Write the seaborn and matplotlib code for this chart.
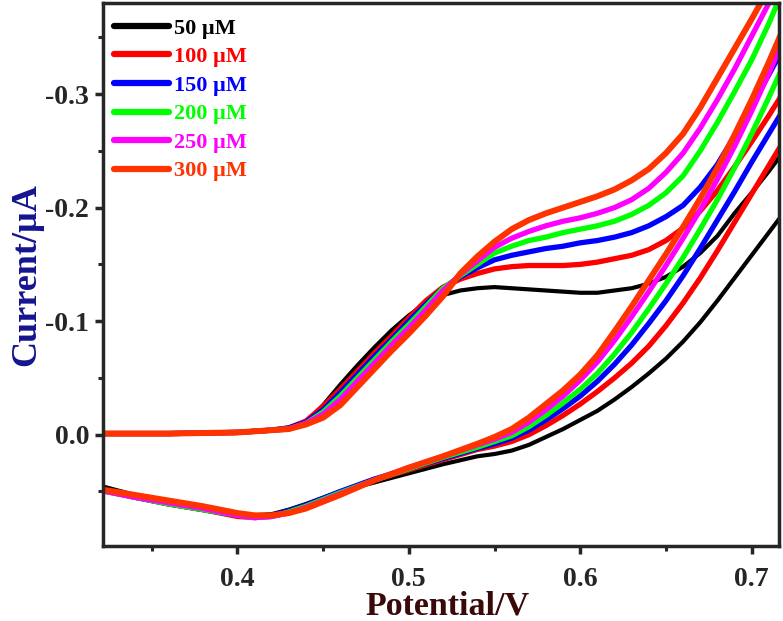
import matplotlib
matplotlib.use("Agg")
import matplotlib.pyplot as plt
import seaborn as sns
import pandas as pd
from matplotlib.ticker import MultipleLocator, FormatStrFormatter

# potential grid of the upper and lower branches, V
x_up = [0.32, 0.36, 0.40, 0.42, 0.43, 0.44, 0.45, 0.46, 0.47, 0.48, 0.49, 0.50, 0.51, 0.52,
        0.53, 0.54, 0.55, 0.56, 0.57, 0.58,
        0.59, 0.60, 0.61, 0.62, 0.63, 0.64, 0.65, 0.66, 0.67, 0.68, 0.69, 0.70, 0.71, 0.72]
x_low = [0.32, 0.34, 0.36, 0.38, 0.40, 0.41, 0.42, 0.43, 0.44, 0.46, 0.48, 0.50, 0.52, 0.54,
         0.55, 0.56, 0.57, 0.58, 0.59, 0.60, 0.61, 0.62, 0.63, 0.64, 0.65, 0.66, 0.67, 0.68,
         0.69, 0.70, 0.71, 0.72]

labels = ["50 µM", "100 µM", "150 µM", "200 µM", "250 µM", "300 µM"]
colors = ["#000000", "#ff0000", "#0000ff", "#00ff00", "#ff00ff", "#ff3300"]

# current, µA
up_50 = [-0.001, -0.001, -0.002, -0.004, -0.006, -0.011, -0.026, -0.044, -0.061, -0.077, -0.092, -0.105, -0.116, -0.123,
         -0.127, -0.129, -0.130, -0.129, -0.128, -0.127,
         -0.126, -0.125, -0.125, -0.127, -0.129, -0.133, -0.139, -0.148, -0.160, -0.175, -0.195, -0.213, -0.232, -0.252]
up_100 = [-0.001, -0.001, -0.002, -0.004, -0.006, -0.012, -0.025, -0.040, -0.056, -0.072, -0.087, -0.103, -0.118, -0.130,
          -0.137, -0.142, -0.146, -0.148, -0.149, -0.149,
          -0.149, -0.150, -0.152, -0.155, -0.158, -0.163, -0.171, -0.182, -0.197, -0.215, -0.236, -0.258, -0.281, -0.305]
up_150 = [-0.001, -0.001, -0.002, -0.004, -0.006, -0.011, -0.022, -0.037, -0.053, -0.069, -0.084, -0.100, -0.115, -0.129,
          -0.139, -0.147, -0.154, -0.158, -0.161, -0.164,
          -0.166, -0.169, -0.171, -0.174, -0.178, -0.184, -0.192, -0.202, -0.218, -0.238, -0.263, -0.290, -0.317, -0.345]
up_200 = [-0.001, -0.001, -0.002, -0.004, -0.005, -0.010, -0.020, -0.034, -0.050, -0.066, -0.082, -0.097, -0.113, -0.129,
          -0.140, -0.150, -0.160, -0.166, -0.171, -0.174,
          -0.178, -0.181, -0.184, -0.188, -0.194, -0.202, -0.213, -0.228, -0.250, -0.275, -0.302, -0.330, -0.362, -0.398]
up_250 = [-0.001, -0.001, -0.002, -0.004, -0.005, -0.010, -0.018, -0.031, -0.047, -0.063, -0.079, -0.094, -0.110, -0.127,
          -0.141, -0.153, -0.165, -0.173, -0.179, -0.184,
          -0.188, -0.191, -0.195, -0.200, -0.207, -0.217, -0.231, -0.248, -0.270, -0.295, -0.322, -0.351, -0.380, -0.410]
up_300 = [-0.001, -0.001, -0.002, -0.004, -0.005, -0.009, -0.015, -0.026, -0.042, -0.058, -0.074, -0.089, -0.105, -0.122,
          -0.142, -0.157, -0.170, -0.181, -0.189, -0.195,
          -0.200, -0.205, -0.210, -0.216, -0.224, -0.234, -0.248, -0.265, -0.288, -0.314, -0.340, -0.366, -0.393, -0.420]

low_50 = [0.045, 0.053, 0.060, 0.065, 0.070, 0.071, 0.070, 0.066, 0.061, 0.050, 0.042, 0.034, 0.026, 0.019,
          0.017, 0.014, 0.009, 0.002, -0.005, -0.013, -0.021, -0.031, -0.042, -0.054, -0.067, -0.082, -0.099, -0.118,
          -0.138, -0.158, -0.178, -0.198]
low_100 = [0.049, 0.055, 0.061, 0.066, 0.072, 0.073, 0.072, 0.068, 0.063, 0.051, 0.040, 0.031, 0.022, 0.013,
           0.010, 0.006, 0.000, -0.008, -0.017, -0.027, -0.038, -0.050, -0.063, -0.078, -0.096, -0.116, -0.138, -0.162,
           -0.187, -0.212, -0.237, -0.262]
low_150 = [0.048, 0.055, 0.061, 0.066, 0.071, 0.072, 0.071, 0.067, 0.062, 0.050, 0.039, 0.030, 0.021, 0.012,
           0.008, 0.003, -0.004, -0.013, -0.023, -0.034, -0.047, -0.062, -0.079, -0.098, -0.118, -0.140, -0.164, -0.189,
           -0.214, -0.240, -0.265, -0.290]
low_200 = [0.049, 0.055, 0.061, 0.066, 0.071, 0.073, 0.072, 0.068, 0.063, 0.051, 0.040, 0.030, 0.020, 0.011,
           0.006, 0.001, -0.007, -0.017, -0.028, -0.040, -0.054, -0.071, -0.090, -0.111, -0.133, -0.156, -0.181, -0.207,
           -0.235, -0.265, -0.297, -0.330]
low_250 = [0.049, 0.055, 0.060, 0.065, 0.071, 0.073, 0.072, 0.069, 0.064, 0.052, 0.040, 0.029, 0.019, 0.009,
           0.004, -0.002, -0.011, -0.022, -0.034, -0.048, -0.064, -0.083, -0.104, -0.126, -0.149, -0.173, -0.198, -0.225,
           -0.254, -0.285, -0.318, -0.353]
low_300 = [0.048, 0.053, 0.058, 0.063, 0.069, 0.071, 0.071, 0.069, 0.065, 0.053, 0.040, 0.029, 0.019, 0.008,
           0.002, -0.005, -0.015, -0.027, -0.039, -0.053, -0.070, -0.091, -0.113, -0.136, -0.159, -0.183, -0.208, -0.235,
           -0.264, -0.295, -0.328, -0.363]

ups = [up_50, up_100, up_150, up_200, up_250, up_300]
lows = [low_50, low_100, low_150, low_200, low_250, low_300]
widths = [3.0, 3.8, 3.8, 3.8, 3.8, 4.3]

sns.set_style("ticks")
plt.rcParams["font.family"] = ["Liberation Serif", "DejaVu Serif"]
plt.rcParams["font.weight"] = "bold"
plt.rcParams["axes.labelweight"] = "bold"
plt.rcParams["axes.unicode_minus"] = False

fig = plt.figure(figsize=(7.83, 6.21), dpi=100)
ax = fig.add_axes([0.1315, 0.1208, 0.8635, 0.874])

for lab, col, up, low, lw in zip(labels, colors, ups, lows, widths):
    # one closed sweep: forward along the upper branch, back along the lower one
    df = pd.DataFrame({"E": x_up + x_low[::-1], "I": up + low[::-1]})
    sns.lineplot(data=df, x="E", y="I", sort=False, estimator=None, color=col,
                 lw=lw, ax=ax, label=lab, solid_joinstyle="round", solid_capstyle="round")

ax.set_xlim(0.3216, 0.716)
ax.set_ylim(0.098, -0.38)
ax.xaxis.set_major_locator(MultipleLocator(0.1))
ax.xaxis.set_minor_locator(MultipleLocator(0.05))
ax.yaxis.set_major_locator(MultipleLocator(0.1))
ax.yaxis.set_minor_locator(MultipleLocator(0.05))
ax.xaxis.set_major_formatter(FormatStrFormatter("%.1f"))
ax.yaxis.set_major_formatter(FormatStrFormatter("%.1f"))
ax.tick_params(which="major", direction="out", length=6, width=2.5, labelsize=20)
ax.tick_params(which="minor", direction="out", length=3.8, width=2.2)
ax.tick_params(axis="x", which="major", pad=9)
ax.tick_params(axis="y", which="major", pad=4)
for s in ax.spines.values():
    s.set_linewidth(2.5)
    s.set_visible(True)

ax.set_xlabel("Potential/V", fontsize=24.5, color="#3a0a0a")
ax.xaxis.label.set_va("baseline")
ax.xaxis.set_label_coords(0.51, -0.126)
ax.set_ylabel("Current/µA", fontsize=26, color="#14148f")
ax.yaxis.set_label_coords(-0.088, 0.5)

leg = ax.legend(loc="upper left", bbox_to_anchor=(0.003, 0.989), frameon=False,
                handlelength=2.48, handletextpad=0.22, borderaxespad=0.0, borderpad=0.4,
                labelspacing=0.36,
                prop={"family": "Liberation Serif", "weight": "bold", "size": 16})
for txt, line in zip(leg.get_texts(), leg.get_lines()):
    txt.set_color(line.get_color())
    line.set_linewidth(4.5)
    line.set_solid_capstyle("round")

fig.savefig("out.png", dpi=100)
